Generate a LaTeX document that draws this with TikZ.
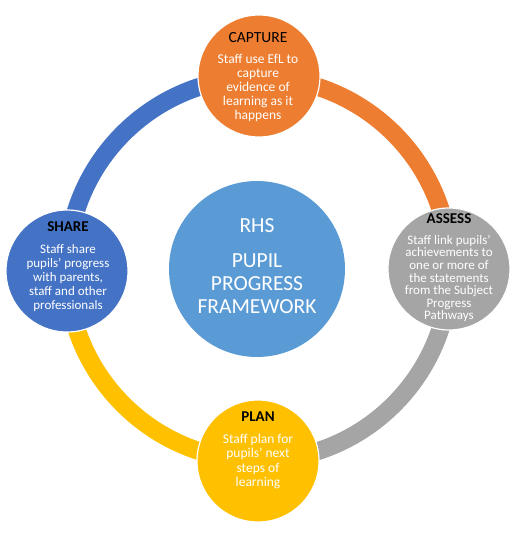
\documentclass[tikz,border=0pt]{standalone}
\usepackage{fontspec}
\setmainfont{Carlito}
\definecolor{corange}{HTML}{ED7D31}
\definecolor{cgrey}{HTML}{A5A5A5}
\definecolor{cyellow}{HTML}{FFC000}
\definecolor{cblue}{HTML}{4472C4}
\definecolor{clight}{HTML}{5B9BD5}
\begin{document}
\begin{tikzpicture}[x=1pt,y=-1pt,
  ringseg/.style={line width=18pt},
  stage/.style={circle, minimum size=122pt, inner sep=0pt, draw=white, line width=1.2pt},
  ttl/.style={inner sep=0pt, font=\fontsize{15}{18}\selectfont\bfseries, text=black},
  body/.style={inner sep=0pt, align=center, text=white, font=\fontsize{13}{14}\selectfont},
]
\useasboundingbox (0,0) rectangle (522,537);
\coordinate (ring) at (258.5,269);
\draw[ringseg, cblue]   (ring) ++(180:191.5) arc[start angle=180, end angle=270, radius=191.5];
\draw[ringseg, corange] (ring) ++(270:191.5) arc[start angle=270, end angle=360, radius=191.5];
\draw[ringseg, cgrey]   (ring) ++(0:191.5)   arc[start angle=0,   end angle=90,  radius=191.5];
\draw[ringseg, cyellow] (ring) ++(90:191.5)  arc[start angle=90,  end angle=180, radius=191.5];

\node[stage, fill=corange] (capture) at (259,76) {};
\node[stage, fill=cgrey]   (assess)  at (449,269) {};
\node[stage, fill=cyellow] (plan)    at (258,461) {};
\node[stage, fill=cblue]   (share)   at (67,271) {};
\node[circle, minimum size=176pt, inner sep=0pt, fill=clight] (center) at (257,269) {};

\node[inner sep=0pt, text=black, font=\fontsize{15.5}{18}\selectfont\mdseries] (captureT) at (258,38) {CAPTURE};
\node[body, font=\fontsize{13.5}{14}\selectfont] (captureB) at (258,88) {Staff use EfL to\\capture\\evidence of\\learning as it\\happens};

\node[ttl] (assessT) at (449,219) {ASSESS};
\node[body, font=\fontsize{13}{12.6}\selectfont] (assessB) at (449,278.5) {Staff link pupils’\\achievements to\\one or more of\\the statements\\from the Subject\\Progress\\Pathways};

\node[ttl] (shareT) at (68,227) {SHARE};
\node[body] (shareB) at (68,278) {Staff share\\pupils' progress\\with parents,\\staff and other\\professionals};

\node[ttl] (planT) at (258,417) {PLAN};
\node[body, font=\fontsize{13.5}{14.3}\selectfont] (planB) at (258,461.5) {Staff plan for\\pupils’ next\\steps of\\learning};

\node[inner sep=0pt, text=white, font=\fontsize{21.5}{23}\selectfont] (rhs) at (257,226) {RHS};
\node[inner sep=0pt, align=center, text=white, font=\fontsize{21.5}{23}\selectfont] (ppf) at (257,283.5) {PUPIL\\PROGRESS\\FRAMEWORK};
\end{tikzpicture}
\end{document}
